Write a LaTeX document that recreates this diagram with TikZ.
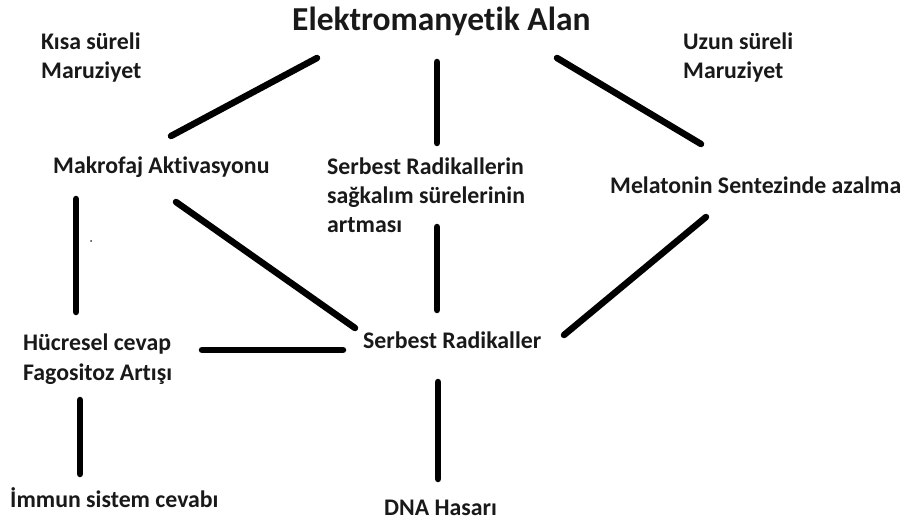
\documentclass[tikz,border=0pt]{standalone}
\usepackage{fontspec}
\setmainfont{Carlito}[RawFeature={-liga;-clig;-dlig}]
\begin{document}
\begin{tikzpicture}[x=1pt,y=-1pt,
  lbl/.style={anchor=base west,inner sep=0pt,align=left,text=black!90,
    font={\bfseries\fontsize{23.8}{29.3}\selectfont}},
  ttl/.style={anchor=base west,inner sep=0pt,text=black!90,
    font={\bfseries\fontsize{33.5}{36}\selectfont}},
  link/.style={line width=6.5pt,line cap=round,black}]
\useasboundingbox[fill=white] (0,0) rectangle (906,524);
% texts (multi-line nodes are anchored at the baseline of their last line)
\node[ttl] (em) at (292,31) {Elektromanyet\kern0pt ik Alan};
\node[lbl] (kisa) at (41,79) {Kısa süreli\\Maruziyet};
\node[lbl] (uzun) at (683,79) {Uzun süreli\\Maruziyet};
\node[lbl] (mak) at (53,174) {Makrofaj Akt\kern0pt ivasyonu};
\node[lbl] (sag) at (327,233) {Serbest Radikallerin\\sağkalım sürelerinin\\artması};
\node[lbl] (mel) at (610,194) {Melatonin Sentezinde azalma};
\node[lbl] (huc) at (23,380) {Hücresel cevap\\Fagositoz Artışı};
\node[lbl] (sr) at (363,348) {Serbest Radikaller};
\node[lbl] (imm) at (10,507) {İmmun sistem cevabı};
\node[lbl] (dna) at (384,515) {DNA Hasarı};
\fill[black!80] (91,241) circle (1pt);
% connector ends
\coordinate (a1) at (317,58);  \coordinate (a2) at (171,136);
\coordinate (b1) at (437,62);  \coordinate (b2) at (437,143);
\coordinate (c1) at (557,58);  \coordinate (c2) at (701,144);
\coordinate (d1) at (76,199);  \coordinate (d2) at (76,312);
\coordinate (e1) at (176,202); \coordinate (e2) at (355,328);
\coordinate (f1) at (437,227); \coordinate (f2) at (437,310);
\coordinate (g1) at (706,217); \coordinate (g2) at (564,335);
\coordinate (h1) at (202,350); \coordinate (h2) at (343,350);
\coordinate (i1) at (80,400);  \coordinate (i2) at (80,474);
\coordinate (j1) at (438,382); \coordinate (j2) at (438,479);
\draw[link] (a1) -- (a2);
\draw[link] (b1) -- (b2);
\draw[link] (c1) -- (c2);
\draw[link] (d1) -- (d2);
\draw[link] (e1) -- (e2);
\draw[link] (f1) -- (f2);
\draw[link] (g1) -- (g2);
\draw[link] (h1) -- (h2);
\draw[link] (i1) -- (i2);
\draw[link] (j1) -- (j2);
\end{tikzpicture}
\end{document}
